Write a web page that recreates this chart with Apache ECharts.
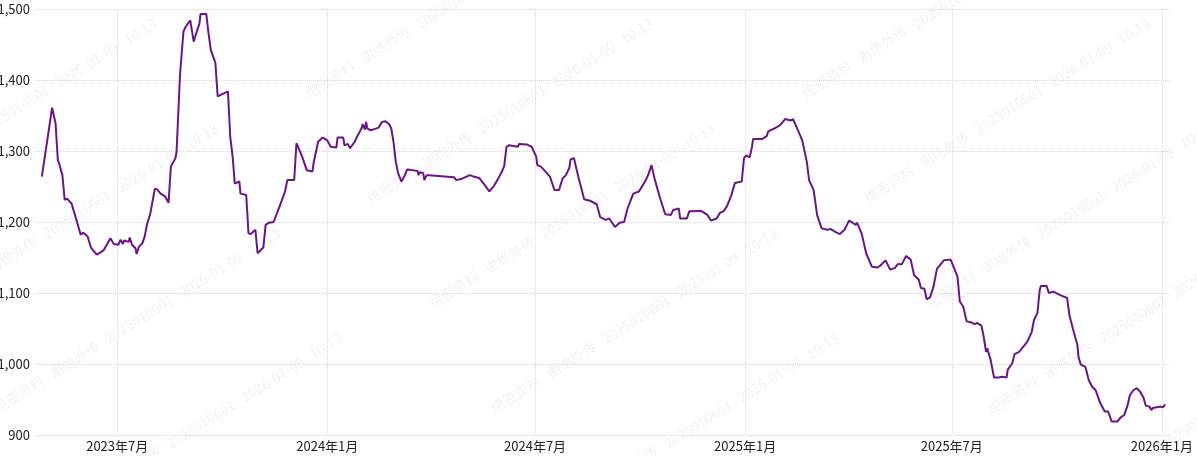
<!DOCTYPE html>
<html>
<head>
<meta charset="utf-8">
<script src="https://cdn.jsdelivr.net/npm/echarts@6/dist/echarts.min.js"></script>
<style>
html,body{margin:0;padding:0;background:#fff;}
#chart{width:1197px;height:456px;}
</style>
</head>
<body>
<div id="chart"></div>
<script>
const dates = [
"2023-04-26","2023-05-05","2023-05-08","2023-05-10","2023-05-11","2023-05-14","2023-05-16","2023-05-18","2023-05-22","2023-05-25",
"2023-05-30","2023-06-01","2023-06-05","2023-06-08","2023-06-13","2023-06-16","2023-06-19","2023-06-25","2023-06-28","2023-07-02",
"2023-07-04","2023-07-06","2023-07-07","2023-07-11","2023-07-12","2023-07-14","2023-07-17","2023-07-18","2023-07-20","2023-07-23",
"2023-07-25","2023-07-27","2023-07-30","2023-08-03","2023-08-05","2023-08-08","2023-08-12","2023-08-15","2023-08-17","2023-08-21",
"2023-08-22","2023-08-25","2023-08-28","2023-08-30","2023-09-03","2023-09-06","2023-09-09","2023-09-11","2023-09-12","2023-09-17",
"2023-09-19","2023-09-21","2023-09-25","2023-09-27","2023-10-06","2023-10-08","2023-10-10","2023-10-12","2023-10-16","2023-10-17",
"2023-10-22","2023-10-24","2023-10-26","2023-10-30","2023-11-01","2023-11-06","2023-11-08","2023-11-11","2023-11-15","2023-11-20",
"2023-11-25","2023-11-27","2023-12-03","2023-12-05","2023-12-10","2023-12-13","2023-12-14","2023-12-19","2023-12-20","2023-12-24",
"2023-12-28","2024-01-01","2024-01-04","2024-01-09","2024-01-10","2024-01-15","2024-01-16","2024-01-19","2024-01-21","2024-01-25",
"2024-01-28","2024-01-31","2024-02-01","2024-02-03","2024-02-04","2024-02-05","2024-02-08","2024-02-15","2024-02-18","2024-02-21",
"2024-02-24","2024-02-26","2024-02-28","2024-03-01","2024-03-03","2024-03-06","2024-03-09","2024-03-11","2024-03-20","2024-03-21",
"2024-03-22","2024-03-25","2024-03-26","2024-03-28","2024-03-30","2024-04-21","2024-04-23","2024-04-28","2024-05-05","2024-05-08",
"2024-05-13","2024-05-18","2024-05-22","2024-05-26","2024-05-29","2024-06-02","2024-06-04","2024-06-06","2024-06-08","2024-06-12",
"2024-06-16","2024-06-17","2024-06-24","2024-06-28","2024-07-02","2024-07-03","2024-07-06","2024-07-09","2024-07-14","2024-07-18",
"2024-07-22","2024-07-25","2024-07-28","2024-07-31","2024-08-01","2024-08-04","2024-08-08","2024-08-13","2024-08-18","2024-08-24",
"2024-08-27","2024-09-01","2024-09-04","2024-09-09","2024-09-13","2024-09-17","2024-09-20","2024-09-25","2024-09-30","2024-10-06",
"2024-10-08","2024-10-11","2024-10-14","2024-10-19","2024-10-23","2024-10-28","2024-10-30","2024-11-04","2024-11-05","2024-11-11",
"2024-11-13","2024-11-17","2024-11-23","2024-11-29","2024-12-02","2024-12-07","2024-12-10","2024-12-13","2024-12-16","2024-12-20",
"2024-12-23","2024-12-29","2024-12-31","2025-01-02","2025-01-05","2025-01-07","2025-01-08","2025-01-16","2025-01-20","2025-01-21",
"2025-01-23","2025-01-27","2025-02-01","2025-02-05","2025-02-10","2025-02-12","2025-02-16","2025-02-20","2025-02-24","2025-02-26",
"2025-03-02","2025-03-05","2025-03-09","2025-03-14","2025-03-17","2025-03-21","2025-03-25","2025-03-29","2025-04-02","2025-04-05",
"2025-04-08","2025-04-09","2025-04-13","2025-04-17","2025-04-22","2025-04-27","2025-04-29","2025-05-04","2025-05-08","2025-05-12",
"2025-05-15","2025-05-18","2025-05-22","2025-05-26","2025-05-29","2025-06-02","2025-06-04","2025-06-07","2025-06-09","2025-06-12",
"2025-06-15","2025-06-18","2025-06-24","2025-06-30","2025-07-06","2025-07-08","2025-07-11","2025-07-14","2025-07-19","2025-07-21",
"2025-07-23","2025-07-27","2025-07-29","2025-07-31","2025-08-01","2025-08-04","2025-08-07","2025-08-11","2025-08-14","2025-08-18",
"2025-08-19","2025-08-23","2025-08-25","2025-08-29","2025-09-01","2025-09-05","2025-09-09","2025-09-11","2025-09-14","2025-09-15",
"2025-09-16","2025-09-17","2025-09-22","2025-09-24","2025-09-28","2025-10-04","2025-10-10","2025-10-12","2025-10-15","2025-10-19",
"2025-10-20","2025-10-22","2025-10-26","2025-10-29","2025-11-01","2025-11-04","2025-11-08","2025-11-12","2025-11-15","2025-11-18",
"2025-11-23","2025-11-26","2025-11-29","2025-12-02","2025-12-04","2025-12-07","2025-12-10","2025-12-13","2025-12-16","2025-12-18",
"2025-12-21","2025-12-23","2025-12-24","2025-12-31","2026-01-02","2026-01-04"
];
const prices = [
1264,1361,1339,1287,1283,1266,1231,1233,1226,1210,
1182,1185,1180,1164,1154,1157,1160,1177,1169,1168,
1175,1169,1174,1172,1178,1168,1163,1155,1165,1170,
1179,1196,1212,1247,1246,1240,1236,1227,1278,1290,
1299,1407,1468,1475,1484,1454,1470,1479,1493,1493,
1466,1442,1424,1377,1384,1320,1294,1254,1257,1240,
1238,1184,1183,1189,1156,1164,1196,1199,1200,1221,
1243,1259,1259,1311,1292,1278,1273,1271,1283,1313,
1319,1315,1306,1305,1319,1319,1308,1310,1304,1313,
1323,1332,1338,1330,1341,1332,1329,1333,1341,1342,
1338,1332,1313,1285,1269,1257,1266,1274,1272,1266,
1270,1269,1259,1266,1266,1263,1259,1261,1266,1264,
1262,1252,1243,1251,1259,1271,1279,1306,1308,1307,
1306,1310,1309,1306,1292,1280,1278,1273,1264,1245,
1245,1261,1266,1276,1288,1290,1263,1232,1230,1225,
1207,1203,1205,1193,1199,1200,1219,1240,1243,1259,
1266,1280,1259,1231,1211,1210,1217,1219,1205,1205,
1215,1215,1216,1210,1202,1205,1213,1215,1222,1238,
1255,1257,1290,1294,1291,1306,1317,1317,1321,1327,
1329,1332,1337,1345,1343,1345,1330,1315,1285,1259,
1245,1210,1191,1189,1190,1186,1183,1189,1202,1199,
1196,1199,1184,1156,1137,1136,1138,1146,1133,1135,
1141,1140,1152,1147,1125,1119,1107,1106,1091,1094,
1109,1134,1146,1147,1123,1088,1081,1060,1058,1056,
1058,1054,1038,1017,1022,1006,981,981,982,981,
992,1001,1014,1017,1023,1031,1045,1062,1072,1088,
1104,1110,1110,1100,1102,1097,1093,1069,1050,1027,
1010,999,996,977,968,963,945,933,933,919,
919,925,928,942,956,963,966,961,952,941,
940,935,938,940,939,943
];
const yTicks = [900, 1000, 1100, 1200, 1300, 1400, 1500];
const watermarkText = "绝密资料   谢绝外传   2025010601   2026-01-09   10:13";

const chart = echarts.init(document.getElementById('chart'), null, {renderer: 'canvas'});
const seriesData = dates.map((d, i) => [d, prices[i]]);

const wm = [];
for (let i = -2; i <= 3; i++) {
  for (let j = -4; j <= 4; j++) {
    const x = 372 + i * 497 + j * 62;
    const y = 205 + j * 105;
    if (x < -400 || x > 1250 || y < -20 || y > 520) continue;
    wm.push({
      type: 'text', x: x, y: y, rotation: 32 * Math.PI / 180, silent: true, z: 0,
      style: {text: watermarkText, fill: 'rgba(0,0,0,0.06)', font: '14px "Noto Sans CJK SC", sans-serif', textVerticalAlign: 'bottom'}
    });
  }
}

chart.setOption({
  animation: false,
  backgroundColor: '#fff',
  grid: {left: 35, right: 26, top: 9, bottom: 21, containLabel: false, outerBoundsMode: 'none'},
  graphic: wm,
  xAxis: {
    type: 'time',
    min: '2023-04-20',
    max: '2026-01-09',
    minInterval: 365 / 2 * 86400000,
    maxInterval: 365 / 2 * 86400000,
    axisLine: {show: false},
    axisTick: {show: false},
    axisLabel: {
      color: '#222', fontSize: 13, margin: 5,
      fontFamily: '"Noto Sans CJK SC", sans-serif',
      hideOverlap: false,
      showMinLabel: false, showMaxLabel: false,
      formatter: function (v) {
        const d = new Date(v);
        return d.getFullYear() + '年' + (d.getMonth() + 1) + '月';
      }
    },
    splitLine: {show: true, showMinLine: false, showMaxLine: false, lineStyle: {color: '#d6d6d6', type: 'dotted', width: 1}}
  },
  yAxis: {
    type: 'value',
    min: yTicks[0], max: yTicks[yTicks.length - 1], interval: 100,
    axisLine: {show: false},
    axisTick: {show: false},
    axisLabel: {color: '#222', fontSize: 13, margin: 5, fontFamily: '"Noto Sans CJK SC", sans-serif'},
    splitLine: {show: true, lineStyle: {color: '#d6d6d6', type: 'dotted', width: 1}}
  },
  series: [{
    type: 'line',
    data: seriesData,
    showSymbol: false,
    symbol: 'none',
    z: 5,
    lineStyle: {color: '#6b1486', width: 2},
    itemStyle: {color: '#6b1486'}
  }]
});
</script>
</body>
</html>
